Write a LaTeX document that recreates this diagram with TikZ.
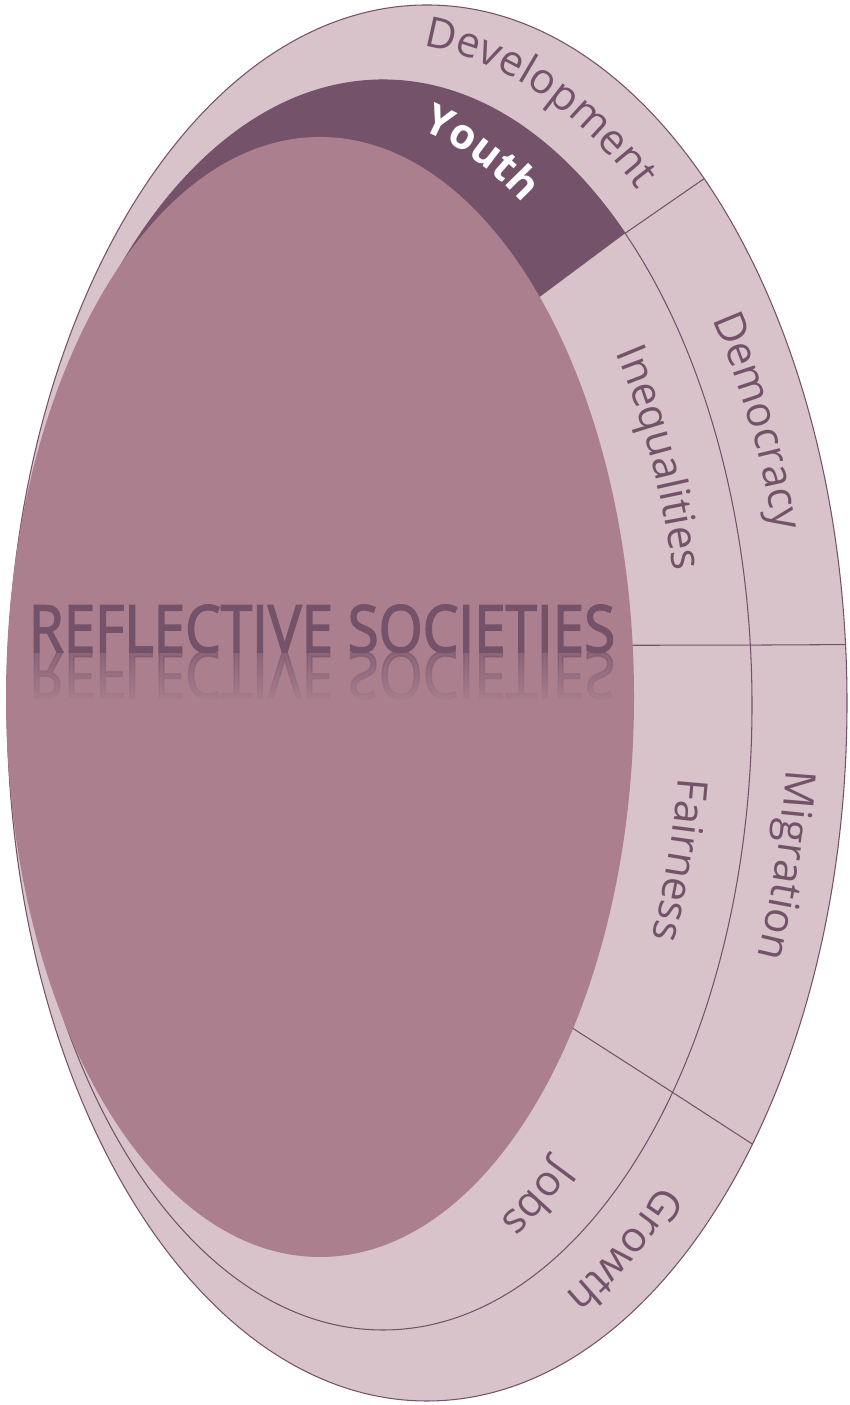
\documentclass[tikz,border=0pt]{standalone}
\usepackage{fontspec}
\usepackage{graphicx}
\usetikzlibrary{decorations.text,fadings}

\newfontfamily\ringfont{Open Sans}
\newfontfamily\headfont{Open Sans}[FakeBold=2.6]

\definecolor{ringpink}{HTML}{D8C3CA}
\definecolor{corepink}{HTML}{AB7F8E}
\definecolor{plum}{HTML}{74536A}

\tikzfading[name=mirrorfade, top color=transparent!100, bottom color=transparent!0]

\tikzset{
  rim/.style={draw=plum, line width=0.6pt},
  ringlabel/.style={decorate, decoration={text along path, text color=plum,
      text={|\ringfont\fontsize{24}{28}\selectfont|#1}}},
  youthlabel/.style={decorate, decoration={text along path, text color=white,
      text={|\ringfont\bfseries\fontsize{24}{28}\selectfont|#1}}},
}

\begin{document}
\begin{tikzpicture}[x=0.02cm, y=0.02cm]
  \useasboundingbox (0,0) rectangle (849,1405);

  % centres: outer, middle, inner ellipse, and the two text tracks
  \coordinate (co) at (427,702);
  \coordinate (cm) at (383,700);
  \coordinate (ci) at (320,708);
  \coordinate (to) at (383,701);
  \coordinate (ti) at (345,705);

  % points where the sector borders meet the ellipses
  \path (ci) ++(45.6:314 and 560) coordinate (i1)
        (cm) ++(49:369 and 625) coordinate (m1)
        (co) ++(48.7:420 and 698) coordinate (o1)
        (ci) ++(5.3:314 and 560) coordinate (i2)
        (cm) ++(5.5:369 and 625) coordinate (m2)
        (co) ++(4.8:420 and 698) coordinate (o2)
        (ci) ++(-36.3:314 and 560) coordinate (i3)
        (cm) ++(-38.3:369 and 625) coordinate (m3)
        (co) ++(-39.2:420 and 698) coordinate (o3);

  % outer ring
  \fill[ringpink, rim] (co) ellipse [x radius=420, y radius=698];

  % Youth sector
  \fill[plum] (i1) -- (m1) arc[start angle=49, end angle=180, x radius=369, y radius=625]
    -- (ci) -- cycle;

  % middle ellipse
  \draw[rim] (cm) ellipse [x radius=369, y radius=625];

  % core
  \fill[corepink] (ci) ellipse [x radius=314, y radius=560];

  % sector borders
  \draw[rim] (m1) -- (o1);
  \draw[rim] (i2) -- (m2) -- (o2);
  \draw[rim] (i3) -- (m3) -- (o3);

  % outer ring labels
  \path[ringlabel=Development] (to) ++(84.3:405 and 661)
    arc[start angle=84.3, end angle=10, x radius=405, y radius=661];
  \path[ringlabel=Democracy] (to) ++(35.6:405 and 661)
    arc[start angle=35.6, end angle=-25, x radius=405, y radius=661];
  \path[ringlabel=Migration] (to) ++(-5.7:405 and 661)
    arc[start angle=-5.7, end angle=-60, x radius=405, y radius=661];
  \path[ringlabel=Growth] (to) ++(-46.6:405 and 661)
    arc[start angle=-46.6, end angle=-100, x radius=405, y radius=661];

  % inner ring labels
  \path[youthlabel=Youth] (ti) ++(76.8:336 and 586)
    arc[start angle=76.8, end angle=20, x radius=336, y radius=586];
  \path[ringlabel=Inequalities] (ti) ++(36.4:336 and 586)
    arc[start angle=36.4, end angle=-25, x radius=336, y radius=586];
  \path[ringlabel=Fairness] (ti) ++(-7.6:336 and 586)
    arc[start angle=-7.6, end angle=-60, x radius=336, y radius=586];
  \path[ringlabel=Jobs] (ti) ++(-51.5:336 and 586)
    arc[start angle=-51.5, end angle=-100, x radius=336, y radius=586];

  % title and its reflection
  \node[plum, font=\headfont\fontsize{37}{41}\selectfont, anchor=base, inner sep=0pt]
    (title) at (322,753) {\scalebox{0.87}[1]{REFLECTIVE SOCIETIES}};
  \node[plum, text opacity=0.55, font=\headfont\fontsize{37}{41}\selectfont, anchor=base, inner sep=0pt]
    (mirror) at (322,753) {\scalebox{0.87}[-1]{REFLECTIVE SOCIETIES}};
  \fill[corepink, path fading=mirrorfade] (20,700) rectangle (625,753);
\end{tikzpicture}
\end{document}
